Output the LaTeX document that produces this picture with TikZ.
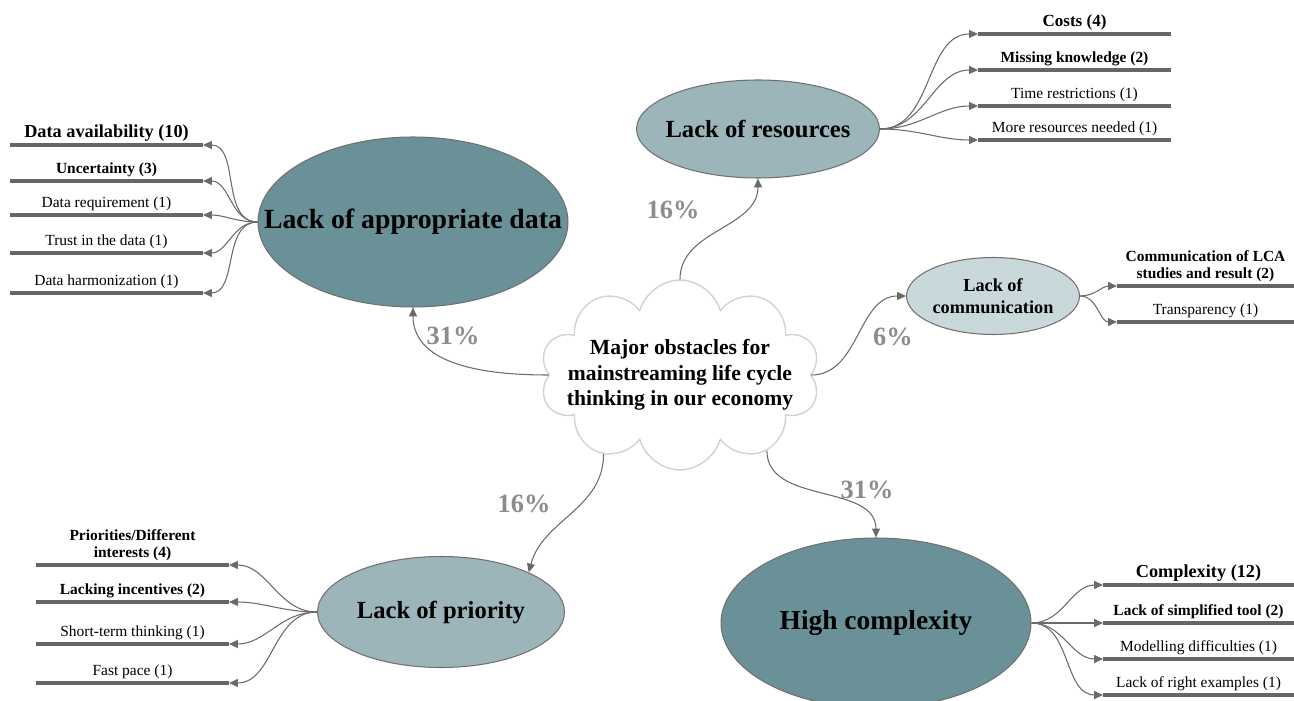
\documentclass[tikz,border=0pt]{standalone}
\usepackage{fontspec}
\setmainfont{Liberation Serif}
\usetikzlibrary{shapes.geometric,shapes.symbols,arrows.meta}
\definecolor{darkteal}{HTML}{6A9198}
\definecolor{midteal}{HTML}{9CB5BA}
\definecolor{lightteal}{HTML}{C9D9DB}
\definecolor{edgegray}{HTML}{707070}
\definecolor{bargray}{HTML}{666666}
\definecolor{linkgray}{HTML}{6A6A6A}
\definecolor{pctgray}{HTML}{8C8C8C}
\definecolor{cloudgray}{HTML}{D2D2D2}

\begin{document}
\begin{tikzpicture}[x=0.02cm,y=0.02cm,join=round,
        topic/.style={ellipse,draw=edgegray,line width=.6pt,inner sep=0pt},
        bar/.style={draw=bargray,line width=2.3pt},
        link/.style={draw=linkgray,line width=.6pt,-{Triangle[length=5pt,width=4.5pt]}},
        share/.style={text=pctgray,font=\bfseries\fontsize{15}{17}\selectfont},
        item/.style={above,inner sep=1pt,align=center,font=\fontsize{8.8}{10}\selectfont},
        bolditem/.style={item,font=\bfseries\fontsize{8.8}{10}\selectfont},
        bigitem/.style={item,font=\bfseries\fontsize{10.4}{12}\selectfont}]
        \useasboundingbox (0,0) rectangle (1294,700);
        % centre
        \node[cloud,cloud puffs=10,cloud ignores aspect,draw=cloudgray,line width=.8pt,fill=white,
                inner sep=0pt,minimum width=5.6cm,minimum height=3.8cm,
                label={[align=center,font=\bfseries\fontsize{12.3}{14.5}\selectfont]center:Major obstacles for\\mainstreaming life cycle\\thinking in our economy}] (core) at (680,325) {};
        % main topics
        \node[topic,fill=darkteal,minimum width=6.2cm,minimum height=3.4cm,
                label={[font=\bfseries\fontsize{15.8}{18}\selectfont]center:Lack of appropriate data}] (data) at (413,478) {};
        \node[topic,fill=midteal,minimum width=4.86cm,minimum height=1.96cm,
                label={[font=\bfseries\fontsize{14}{16}\selectfont]center:Lack of resources}] (res) at (758,571) {};
        \node[topic,fill=lightteal,minimum width=3.46cm,minimum height=1.54cm,
                label={[align=center,font=\bfseries\fontsize{10.4}{12.5}\selectfont]center:Lack of\\communication}] (comm) at (993,404) {};
        \node[topic,fill=midteal,minimum width=4.94cm,minimum height=2.22cm,
                label={[font=\bfseries\fontsize{14}{16}\selectfont]center:Lack of priority}] (pri) at (441,88) {};
        \node[topic,fill=darkteal,minimum width=6.2cm,minimum height=3.4cm,
                label={[font=\bfseries\fontsize{15.6}{18}\selectfont]center:High complexity}] (comp) at (876,77) {};
        % shares
        \draw[link] (core.north) to[out=90,in=-90] (res.south);
        \draw[link] (core.west) to[out=180,in=-90] (data.south);
        \draw[link] (core.east) to[out=0,in=180] (comm.west);
        \draw[link] (core.-134) to[out=-90,in=75] (pri.north east);
        \draw[link] (core.-41) to[out=-90,in=90] (comp.north);
        \node[share] (p1) at (673,490) {16\%};
        \node[share] (p2) at (453,364) {31\%};
        \node[share] (p3) at (893,363) {6\%};
        \node[share] (p4) at (524,196) {16\%};
        \node[share] (p5) at (867,210) {31\%};
        % data
        \draw[bar] (10,555) -- node[bigitem] (d1t) {Data availability (10)} (203,555) coordinate (d1);
        \draw[bar] (10,519) -- node[bolditem] (d2t) {Uncertainty (3)} (203,519) coordinate (d2);
        \draw[bar] (10,485) -- node[item] (d3t) {Data requirement (1)} (203,485) coordinate (d3);
        \draw[bar] (10,447) -- node[item] (d4t) {Trust in the data (1)} (203,447) coordinate (d4);
        \draw[bar] (10,407) -- node[item] (d5t) {Data harmonization (1)} (203,407) coordinate (d5);
        \draw[link] (data.west) to[out=180,in=0] (d1);
        \draw[link] (data.west) to[out=180,in=0] (d2);
        \draw[link] (data.west) to[out=180,in=0] (d3);
        \draw[link] (data.west) to[out=180,in=0] (d4);
        \draw[link] (data.west) to[out=180,in=0] (d5);
        % resources
        \draw[bar] (978,666) coordinate (r1) -- node[item,font=\bfseries\fontsize{9.7}{11}\selectfont] (r1t) {Costs (4)} (1171,666);
        \draw[bar] (978,630) coordinate (r2) -- node[bolditem] (r2t) {Missing knowledge (2)} (1171,630);
        \draw[bar] (978,594) coordinate (r3) -- node[item] (r3t) {Time restrictions (1)} (1171,594);
        \draw[bar] (978,560) coordinate (r4) -- node[item] (r4t) {More resources needed (1)} (1171,560);
        \draw[link] (res.east) to[out=0,in=180] (r1);
        \draw[link] (res.east) to[out=0,in=180] (r2);
        \draw[link] (res.east) to[out=0,in=180] (r3);
        \draw[link] (res.east) to[out=0,in=180] (r4);
        % communication
        \draw[bar] (1117,414) coordinate (c1) -- node[bolditem] (c1t) {Communication of LCA\\studies and result (2)} (1294,414);
        \draw[bar] (1117,378) coordinate (c2) -- node[item] (c2t) {Transparency (1)} (1294,378);
        \draw[link] (comm.east) to[out=0,in=180] (c1);
        \draw[link] (comm.east) to[out=0,in=180] (c2);
        % priority
        \draw[bar] (36,135) -- node[bolditem] (q1t) {Priorities/Different\\interests (4)} (229,135) coordinate (q1);
        \draw[bar] (36,98) -- node[bolditem] (q2t) {Lacking incentives (2)} (229,98) coordinate (q2);
        \draw[bar] (36,56) -- node[item] (q3t) {Short-term thinking (1)} (229,56) coordinate (q3);
        \draw[bar] (36,17) -- node[item] (q4t) {Fast pace (1)} (229,17) coordinate (q4);
        \draw[link] (pri.west) to[out=180,in=0] (q1);
        \draw[link] (pri.west) to[out=180,in=0] (q2);
        \draw[link] (pri.west) to[out=180,in=0] (q3);
        \draw[link] (pri.west) to[out=180,in=0] (q4);
        % complexity
        \draw[bar] (1103,115) coordinate (x1) -- node[bigitem] (x1t) {Complexity (12)} (1294,115);
        \draw[bar] (1103,77) coordinate (x2) -- node[bolditem] (x2t) {Lack of simplified tool (2)} (1294,77);
        \draw[bar] (1103,41) coordinate (x3) -- node[item] (x3t) {Modelling difficulties (1)} (1294,41);
        \draw[bar] (1103,5) coordinate (x4) -- node[item] (x4t) {Lack of right examples (1)} (1294,5);
        \draw[link] (comp.east) to[out=0,in=180] (x1);
        \draw[link] (comp.east) to[out=0,in=180] (x2);
        \draw[link] (comp.east) to[out=0,in=180] (x3);
        \draw[link] (comp.east) to[out=0,in=180] (x4);
\end{tikzpicture}
\end{document}
